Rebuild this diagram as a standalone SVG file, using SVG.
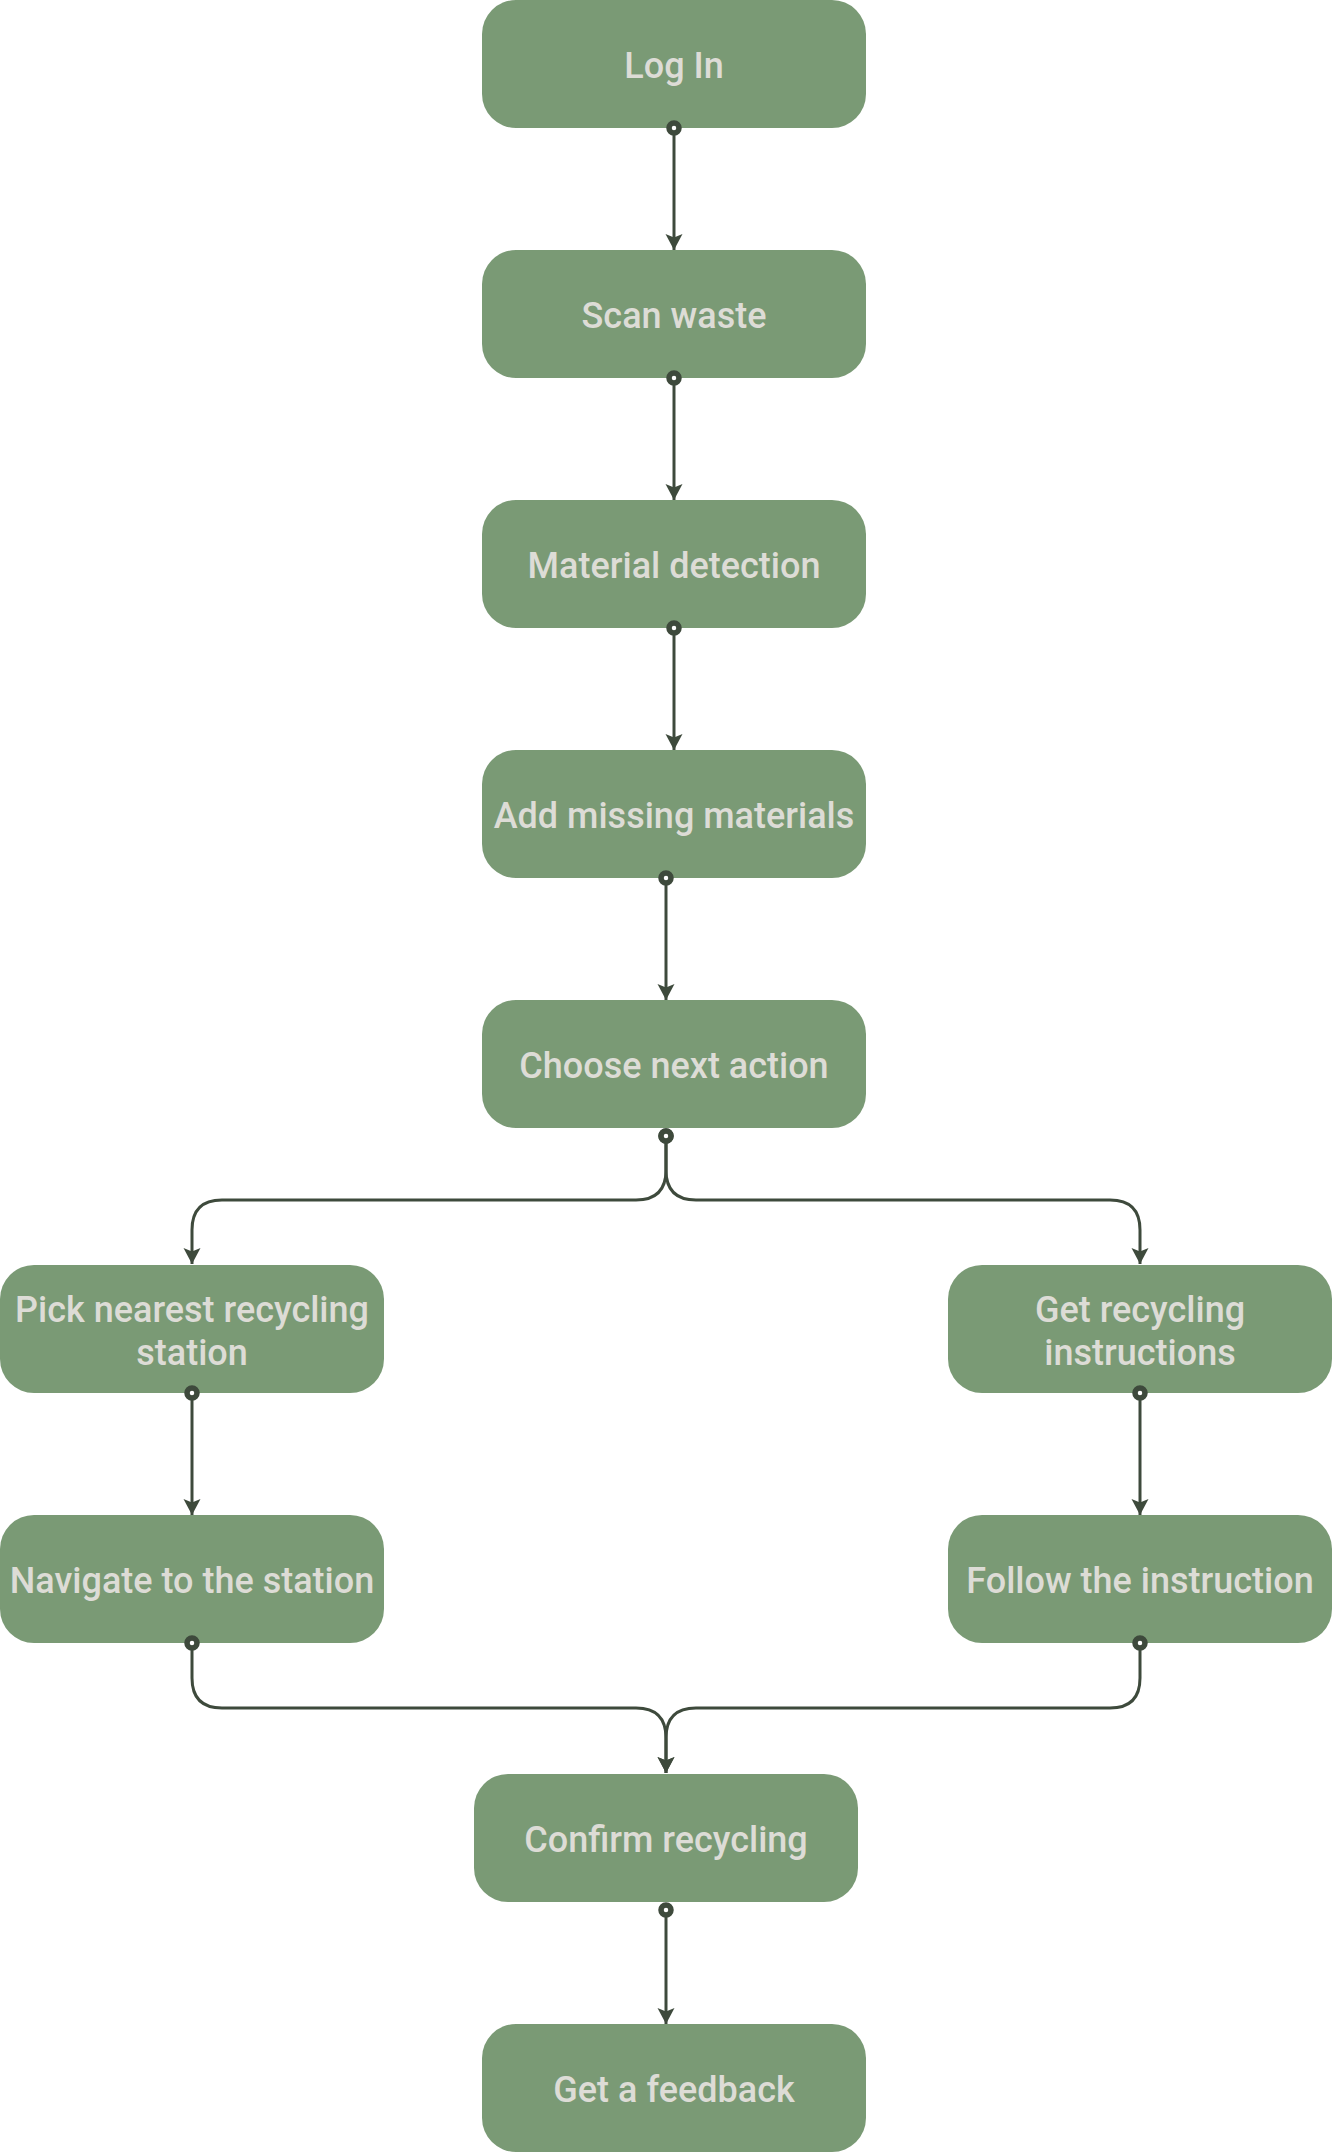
<svg xmlns="http://www.w3.org/2000/svg" width="1332" height="2152" viewBox="0 0 1332 2152">
<style>
.box{fill:#7a9a75;}
.lbl{font-family:Roboto,"Liberation Sans",sans-serif;font-weight:500;font-size:36px;fill:#dddcd6;text-anchor:middle;}
.edge{fill:none;stroke:#3e4a3c;stroke-width:3;marker-start:url(#dot);marker-end:url(#arrow);}
</style>
<defs>
<marker id="arrow" markerUnits="userSpaceOnUse" markerWidth="22" markerHeight="22" viewBox="0 -11 18 22" refX="16" refY="0" orient="auto">
<path d="M0,-8.5 L16,0 L0,8.5 L3.5,0 z" fill="#3e4a3c"/>
</marker>
<marker id="dot" markerUnits="userSpaceOnUse" markerWidth="22" markerHeight="22" viewBox="-11 -11 22 22" refX="0" refY="0" orient="auto">
<circle cx="0" cy="0" r="5" fill="#ffffff" stroke="#3e4a3c" stroke-width="5.5"/>
</marker>
</defs>
<rect width="1332" height="2152" fill="#ffffff"/>
<g id="log-in"><rect class="box" x="482" y="0" width="384" height="128" rx="34"/><text class="lbl" x="674" y="78">Log In</text></g>
<g id="scan-waste"><rect class="box" x="482" y="250" width="384" height="128" rx="34"/><text class="lbl" x="674" y="328">Scan waste</text></g>
<g id="material-detection"><rect class="box" x="482" y="500" width="384" height="128" rx="34"/><text class="lbl" x="674" y="578">Material detection</text></g>
<g id="add-missing"><rect class="box" x="482" y="750" width="384" height="128" rx="34"/><text class="lbl" x="674" y="828">Add missing materials</text></g>
<g id="choose-next"><rect class="box" x="482" y="1000" width="384" height="128" rx="34"/><text class="lbl" x="674" y="1078">Choose next action</text></g>
<g id="pick-nearest"><rect class="box" x="0" y="1265" width="384" height="128" rx="34"/><text class="lbl" x="192" y="1322">Pick nearest recycling</text><text class="lbl" x="192" y="1365">station</text></g>
<g id="get-instructions"><rect class="box" x="948" y="1265" width="384" height="128" rx="34"/><text class="lbl" x="1140" y="1322">Get recycling</text><text class="lbl" x="1140" y="1365">instructions</text></g>
<g id="navigate"><rect class="box" x="0" y="1515" width="384" height="128" rx="34"/><text class="lbl" x="192" y="1593">Navigate to the station</text></g>
<g id="follow"><rect class="box" x="948" y="1515" width="384" height="128" rx="34"/><text class="lbl" x="1140" y="1593">Follow the instruction</text></g>
<g id="confirm"><rect class="box" x="474" y="1774" width="384" height="128" rx="34"/><text class="lbl" x="666" y="1852">Confirm recycling</text></g>
<g id="feedback"><rect class="box" x="482" y="2024" width="384" height="128" rx="34"/><text class="lbl" x="674" y="2102">Get a feedback</text></g>
<g id="connectors">
<path class="edge" d="M674,128 L674,250"/>
<path class="edge" d="M674,378 L674,500"/>
<path class="edge" d="M674,628 L674,750"/>
<path class="edge" d="M666,878 L666,1000"/>
<path class="edge" d="M666,1136 L666,1170 Q666,1200 636,1200 L222,1200 Q192,1200 192,1230 L192,1264"/>
<path class="edge" d="M666,1136 L666,1170 Q666,1200 696,1200 L1110,1200 Q1140,1200 1140,1230 L1140,1264"/>
<path class="edge" d="M192,1393 L192,1515"/>
<path class="edge" d="M1140,1393 L1140,1515"/>
<path class="edge" d="M192,1643 L192,1678 Q192,1708 222,1708 L636,1708 Q666,1708 666,1738 L666,1773"/>
<path class="edge" d="M1140,1643 L1140,1678 Q1140,1708 1110,1708 L696,1708 Q666,1708 666,1738 L666,1773"/>
<path class="edge" d="M666,1910 L666,2024"/>
</g>
</svg>
